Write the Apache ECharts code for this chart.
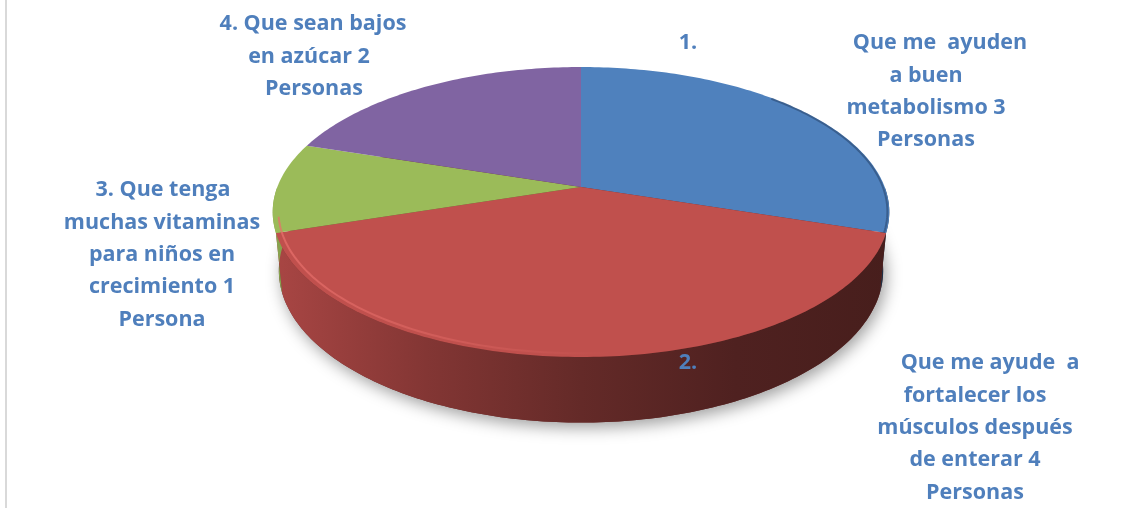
<!DOCTYPE html>
<html>
<head>
<meta charset="utf-8">
<script src="https://cdn.jsdelivr.net/npm/echarts@6/dist/echarts.min.js"></script>
<style>
  html, body { margin: 0; padding: 0; background: #ffffff; }
  #chart { width: 1147px; height: 508px; }
</style>
</head>
<body>
<div id="chart"></div>
<script>
// Answers: what people want from the product (number of people per answer)
const categoryLines = [
  ['Que me  ayuden', 'a buen', 'metabolismo'],
  ['Que me ayude  a', 'fortalecer los', 'músculos después', 'de enterar'],
  ['Que tenga', 'muchas vitaminas', 'para niños en', 'crecimiento'],
  ['Que sean bajos', 'en azúcar']
];
const categories = categoryLines.map(l => l.join(' '));
const counts = [3, 4, 1, 2];
const units = ['Personas', 'Personas', 'Persona', 'Personas'];
const markers = ['1.', '2.', '3.', '4.'];
const sliceColors = ['#4f81bd', '#c0504d', '#9bbb59', '#8064a2'];

// Label placement: marker drawn inline or apart, per-line centre x, first line y
const labelLayout = [
  { inline: false, marker: [688, 43], xs: [940, 926, 926, 926], y0: 43 },
  { inline: false, marker: [688, 363], xs: [990, 975, 975, 975, 975], y0: 363 },
  { inline: true, xs: [163, 162, 162, 162, 162], y0: 190 },
  { inline: true, xs: [313, 309, 314], y0: 24 }
];
const LINE_H = 32.4;
const LABEL_FONT = { fontSize: 21.5, fontWeight: 'bold', fontFamily: 'Open Sans' };
const LABEL_COLOR = '#4f7fbc';

// 3D view of the pie disc (perspective projection)
const CX = 581, CY = 187;
const TILT = 27.6 * Math.PI / 180;
const S = Math.sin(TILT), C = Math.cos(TILT);
const D0 = 5.8 * C;
const F = 120 * (D0 + C) / S;
const THICK = 0.219;

function project(deg, yw, r) {
  const t = deg * Math.PI / 180;
  const x = r * Math.sin(t), z = r * Math.cos(t);
  const yv = yw * C + z * S;
  const zv = D0 + z * C - yw * S;
  return [CX + F * x / zv, CY - F * yv / zv];
}
function arc(a0, a1, yw, r) {
  const pts = [];
  const n = Math.max(2, Math.ceil(Math.abs(a1 - a0)));
  for (let k = 0; k <= n; k++) pts.push(project(a0 + (a1 - a0) * k / n, yw, r));
  return pts;
}
const total = counts.reduce((a, b) => a + b, 0);
function sliceRange(i, v) {
  let before = 0;
  for (let k = 0; k < i; k++) before += counts[k];
  return [before / total * 360, (before + v) / total * 360];
}
function shade(hex, f) {
  const n = parseInt(hex.slice(1), 16);
  const r = Math.round(((n >> 16) & 255) * f);
  const g = Math.round(((n >> 8) & 255) * f);
  const b = Math.round((n & 255) * f);
  return `rgb(${r},${g},${b})`;
}

function renderWall(params, api) {
  const i = params.dataIndex;
  const [a0, a1] = sliceRange(i, api.value(0));
  const children = [];
  if (i === 0) {
    children.push({
      type: 'polygon', z2: -5,
      shape: { points: arc(0, 360, -THICK, 1) },
      style: {
        fill: '#6a2d2b', shadowBlur: 16, shadowOffsetX: 3, shadowOffsetY: 5,
        shadowColor: 'rgba(0,0,0,0.38)'
      }
    });
  }
  const lo = Math.max(a0, 90), hi = Math.min(a1, 270);
  if (hi > lo) {
    const pts = arc(lo, hi, 0, 1).concat(arc(hi, lo, -THICK, 1));
    const base = sliceColors[i];
    children.push({
      type: 'polygon', z2: 1,
      shape: { points: pts },
      style: {
        fill: new echarts.graphic.LinearGradient(272, 0, 890, 0, [
          { offset: 0, color: shade(base, 0.88) },
          { offset: 0.25, color: shade(base, 0.68) },
          { offset: 0.5, color: shade(base, 0.52) },
          { offset: 0.75, color: shade(base, 0.41) },
          { offset: 1, color: shade(base, 0.37) }
        ], true)
      }
    });
  }
  return { type: 'group', children };
}

function renderTop(params, api) {
  const i = params.dataIndex;
  const [a0, a1] = sliceRange(i, api.value(0));
  const pts = [project(0, 0, 0)].concat(arc(a0, a1, 0, 1));
  const children = [{
    type: 'polygon', z2: 1,
    shape: { points: pts },
    style: { fill: sliceColors[i] }
  }];
  // soft bevel along the near rim
  const hlo = Math.max(a0, 112), hhi = Math.min(a1, 258);
  if (hhi > hlo) {
    children.push({
      type: 'polyline', z2: 2,
      shape: { points: arc(hlo, hhi, 0, 0.982) },
      style: {
        fill: null, lineWidth: 2,
        stroke: new echarts.graphic.LinearGradient(272, 0, 890, 0, [
          { offset: 0, color: 'rgba(232,112,108,0.75)' },
          { offset: 0.3, color: 'rgba(226,106,102,0.45)' },
          { offset: 0.55, color: 'rgba(220,100,96,0.0)' },
          { offset: 1, color: 'rgba(220,100,96,0.0)' }
        ], true)
      }
    });
  }
  // darker edge on the right-hand rim
  const dlo = Math.max(a0, 45), dhi = Math.min(a1, 108);
  if (dhi > dlo) {
    children.push({
      type: 'polyline', z2: 2,
      shape: { points: arc(dlo, dhi, 0, 0.994) },
      style: { fill: null, lineWidth: 2, stroke: 'rgba(25,45,75,0.4)' }
    });
  }
  return { type: 'group', children };
}

function renderLabel(params, api) {
  const i = params.dataIndex;
  const lay = labelLayout[i];
  const lines = categoryLines[i].slice();
  lines[lines.length - 1] += ' ' + api.value(0);
  lines.push(units[i]);
  if (lay.inline) lines[0] = markers[i] + ' ' + lines[0];
  const children = lines.map((t, k) => ({
    type: 'text',
    style: Object.assign({
      text: t, x: lay.xs[k], y: lay.y0 + k * LINE_H,
      fill: LABEL_COLOR, align: 'center', verticalAlign: 'middle'
    }, LABEL_FONT)
  }));
  if (!lay.inline) {
    children.push({
      type: 'text',
      style: Object.assign({
        text: markers[i], x: lay.marker[0], y: lay.marker[1],
        fill: LABEL_COLOR, align: 'center', verticalAlign: 'middle'
      }, LABEL_FONT)
    });
  }
  return { type: 'group', children };
}

const seriesData = counts.map((v, i) => ({ name: categories[i], value: [v] }));

const chart = echarts.init(document.getElementById('chart'), null, { renderer: 'canvas' });
chart.setOption({
  animation: false,
  backgroundColor: '#ffffff',
  graphic: [{
    type: 'rect', left: 5, top: 0,
    shape: { width: 2, height: 508 },
    style: { fill: '#d9d9d9' }
  }],
  series: [
    { type: 'custom', coordinateSystem: 'none', z: 2, renderItem: renderWall, data: seriesData },
    { type: 'custom', coordinateSystem: 'none', z: 3, renderItem: renderTop, data: seriesData },
    { type: 'custom', coordinateSystem: 'none', z: 4, renderItem: renderLabel, data: seriesData }
  ]
});
</script>
</body>
</html>
